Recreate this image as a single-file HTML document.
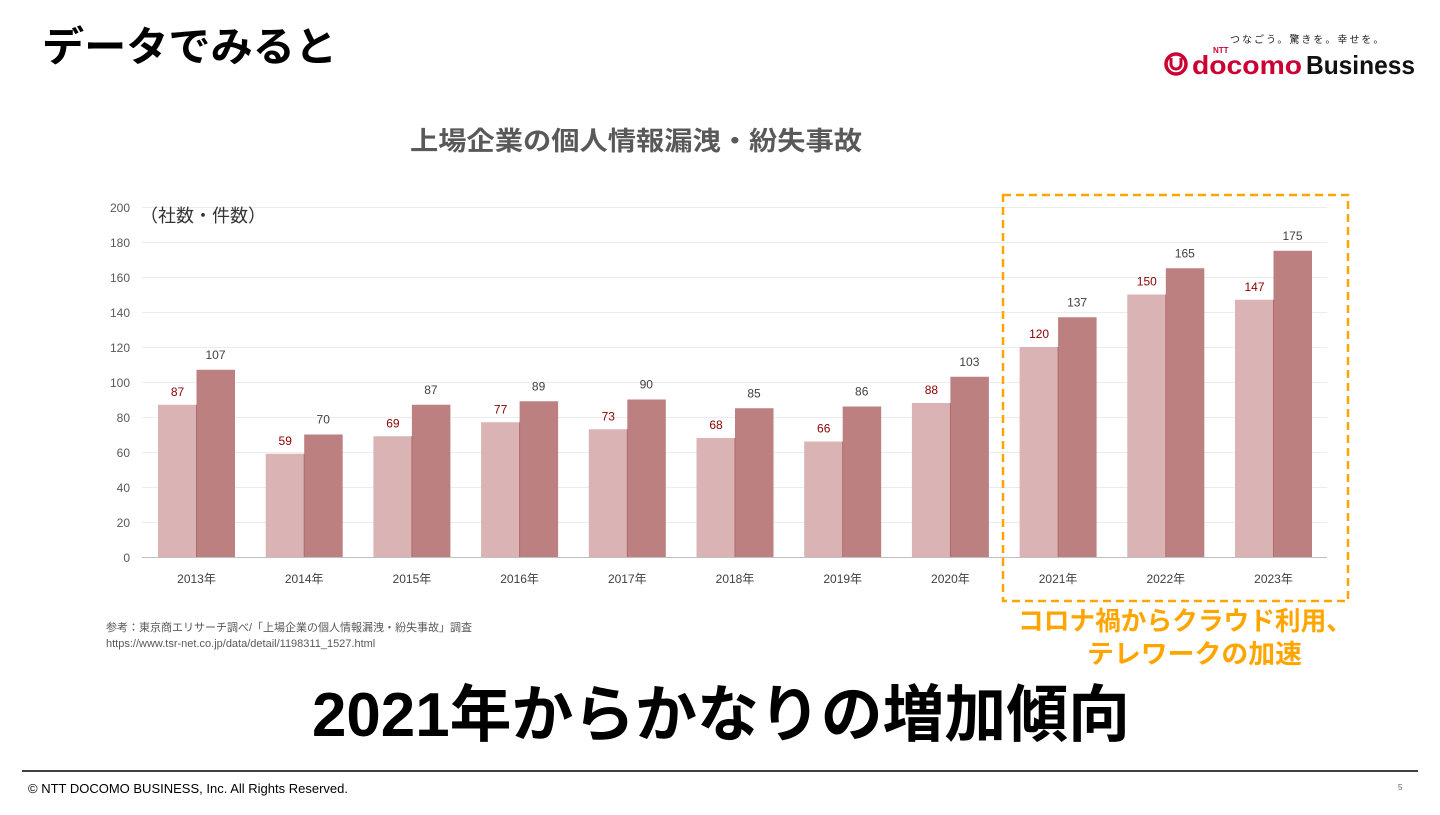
<!DOCTYPE html>
<html><head><meta charset="utf-8"><style>
body{margin:0;width:1440px;height:810px;background:#fff;overflow:hidden;font-family:"Liberation Sans","Noto Sans CJK JP",sans-serif;}
</style></head><body>
<svg width="1440" height="810" xmlns="http://www.w3.org/2000/svg" font-family="Liberation Sans, Noto Sans CJK JP, sans-serif">
<text x="42" y="61" font-size="41" font-weight="bold" fill="#000" textLength="295" lengthAdjust="spacingAndGlyphs">データでみると</text>
<text x="1230" y="43" font-size="10" fill="#222" letter-spacing="2">つなごう。驚きを。幸せを。</text>
<circle cx="1176" cy="64" r="10" fill="none" stroke="#cc0033" stroke-width="3.5"/>
<path d="M1171 58 v6 a5 5 0 0 0 10 0 v-6" fill="none" stroke="#cc0033" stroke-width="3"/>
<text x="1192" y="74" font-size="26" font-weight="bold" fill="#cc0033" textLength="110" lengthAdjust="spacingAndGlyphs">docomo</text>
<text x="1213" y="53" font-size="8" font-weight="bold" fill="#cc0033">NTT</text>
<text x="1306" y="74" font-size="26" font-weight="bold" fill="#111" textLength="109" lengthAdjust="spacingAndGlyphs">Business</text>
<text x="410" y="150" font-size="26" font-weight="bold" fill="#595959" textLength="452" lengthAdjust="spacingAndGlyphs">上場企業の個人情報漏洩・紛失事故</text>
<g stroke="#ececec" stroke-width="1">
<line x1="142" x2="1327" y1="207.5" y2="207.5"/><line x1="142" x2="1327" y1="242.5" y2="242.5"/><line x1="142" x2="1327" y1="277.5" y2="277.5"/><line x1="142" x2="1327" y1="312.5" y2="312.5"/><line x1="142" x2="1327" y1="347.5" y2="347.5"/><line x1="142" x2="1327" y1="382.5" y2="382.5"/><line x1="142" x2="1327" y1="417.5" y2="417.5"/><line x1="142" x2="1327" y1="452.5" y2="452.5"/><line x1="142" x2="1327" y1="487.5" y2="487.5"/><line x1="142" x2="1327" y1="522.5" y2="522.5"/>
</g>
<g font-size="12" fill="#595959" text-anchor="end">
<text x="130" y="212">200</text><text x="130" y="247">180</text><text x="130" y="282">160</text><text x="130" y="317">140</text><text x="130" y="352">120</text><text x="130" y="387">100</text><text x="130" y="422">80</text><text x="130" y="457">60</text><text x="130" y="492">40</text><text x="130" y="527">20</text><text x="130" y="562">0</text>
</g>
<text x="140" y="222" font-size="18" fill="#333">（社数・件数）</text>
<g id="bars"></g>
<line x1="142" x2="1327" y1="557.5" y2="557.5" stroke="#bfbfbf"/>
<rect x="1003" y="195" width="345" height="406" fill="none" stroke="#ffa500" stroke-width="2.5" stroke-dasharray="8,5"/>
<text x="1018" y="630" font-size="26" font-weight="bold" fill="#ffa500" textLength="334" lengthAdjust="spacingAndGlyphs">コロナ禍からクラウド利用、</text>
<text x="1087" y="663" font-size="26" font-weight="bold" fill="#ffa500" textLength="215" lengthAdjust="spacingAndGlyphs">テレワークの加速</text>
<text x="106" y="631" font-size="11" fill="#595959">参考：東京商エリサーチ調べ/「上場企業の個人情報漏洩・紛失事故」調査</text>
<text x="106" y="647" font-size="11" fill="#595959">https://www.tsr-net.co.jp/data/detail/1198311_1527.html</text>
<text x="312" y="736" font-size="62" font-weight="bold" fill="#000" textLength="818" lengthAdjust="spacingAndGlyphs">2021年からかなりの増加傾向</text>
<line x1="22" y1="771" x2="1418" y2="771" stroke="#000" stroke-width="1.5"/>
<text x="28" y="793" font-size="13" fill="#000">© NTT DOCOMO BUSINESS, Inc. All Rights Reserved.</text>
<text x="1398" y="790" font-size="8" fill="#666">5</text>
</svg>
<script>
var a=[87,59,69,77,73,68,66,88,120,150,147],b=[107,70,87,89,90,85,86,103,137,165,175];
var g=document.getElementById('bars'),s='';
for(var i=0;i<11;i++){var c=196.5+i*107.7;var ya=557-a[i]*1.75,yb=557-b[i]*1.75;
s+='<rect x="'+(c-38.5)+'" y="'+ya+'" width="38.5" height="'+(557-ya)+'" fill="#dab4b4"/>';
s+='<rect x="'+c+'" y="'+yb+'" width="38.5" height="'+(557-yb)+'" fill="#bc8080"/>';
s+='<line x1="'+c+'" x2="'+c+'" y1="'+ya+'" y2="557" stroke="#b06a6a" stroke-width="1"/>';
s+='<text x="'+(c-19)+'" y="'+(ya-9)+'" font-size="12" fill="#8b0000" text-anchor="middle">'+a[i]+'</text>';
s+='<text x="'+(c+19)+'" y="'+(yb-11)+'" font-size="12" fill="#404040" text-anchor="middle">'+b[i]+'</text>';
s+='<text x="'+c+'" y="583" font-size="12" fill="#404040" text-anchor="middle">'+(2013+i)+'年</text>';}
g.innerHTML=s;
</script>
</body></html>
